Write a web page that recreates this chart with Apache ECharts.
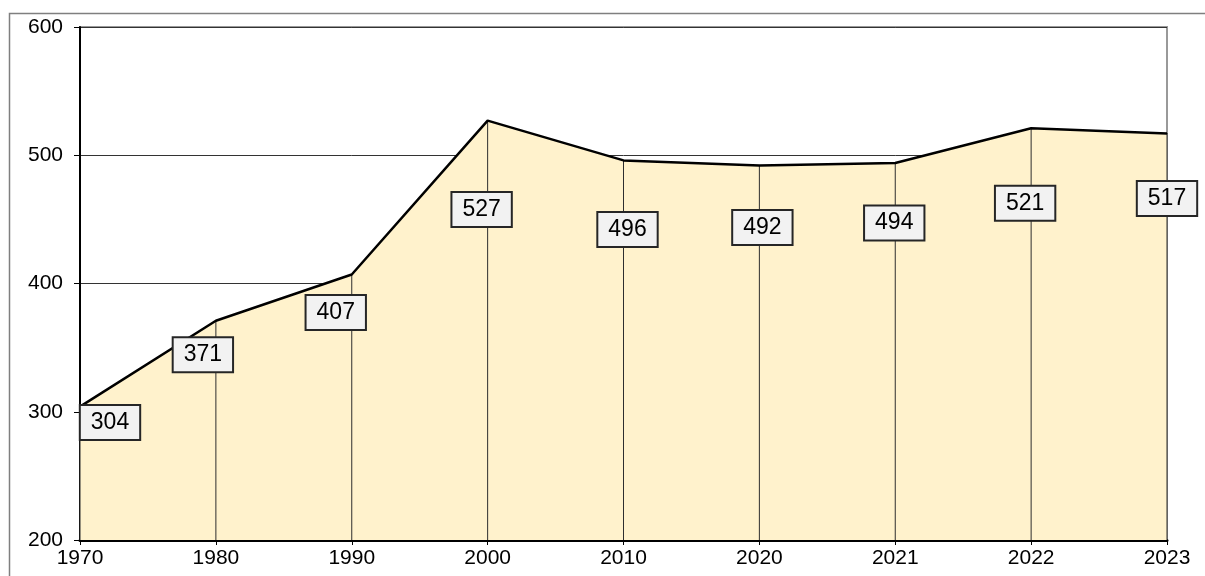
<!DOCTYPE html>
<html>
<head>
<meta charset="utf-8">
<script src="https://cdn.jsdelivr.net/npm/echarts@6/dist/echarts.min.js"></script>
<style>
html,body{margin:0;padding:0;background:#fff;}
#chart{width:1205px;height:576px;}
</style>
</head>
<body>
<div id="chart"></div>
<script>
// ---- data ----
const years = ['1970','1980','1990','2000','2010','2020','2021','2022','2023'];
const values = [304, 371, 407, 527, 496, 492, 494, 521, 517];
const yTicks = [200, 300, 400, 500, 600];

// ---- label layout (pixel offsets of each data label from its point) ----
const labelShift = [[30,16],[-13,34],[-16,38],[-6,89],[4,69],[3,62],[-1,60],[-6,75],[0,65]];

const FONT = 'Arial, "Liberation Sans", sans-serif';
const chart = echarts.init(document.getElementById('chart'), null, {renderer:'canvas'});

chart.setOption({
  animation: false,
  backgroundColor: '#ffffff',
  graphic: [{
    type: 'rect', left: 7, top: 11, z: -10, silent: true,
    shape: { width: 1400, height: 800 },
    style: { fill: 'none', stroke: '#7f7f7f', lineWidth: 1.5 }
  }],
  grid: {
    left: 80, right: 38, top: 27, bottom: 36,
    show: true, borderColor: '#999999', borderWidth: 2, backgroundColor: 'transparent'
  },
  xAxis: {
    type: 'category',
    data: years,
    boundaryGap: false,
    axisLine: { show: true, lineStyle: { color: '#000', width: 3 } },
    axisTick: { show: true, alignWithLabel: true, length: 5, lineStyle: { color: '#000', width: 1 } },
    axisLabel: { color: '#000', fontSize: 21, fontFamily: FONT, margin: 8 },
    splitLine: { show: false }
  },
  yAxis: {
    type: 'value',
    min: yTicks[0],
    max: yTicks[yTicks.length - 1],
    interval: yTicks[1] - yTicks[0],
    axisLine: { show: true, lineStyle: { color: '#000', width: 2 } },
    axisTick: { show: true, length: 6, lineStyle: { color: '#000', width: 1 } },
    axisLabel: { color: '#000', fontSize: 21, fontFamily: FONT, margin: 17 },
    splitLine: { show: true, lineStyle: { color: '#333', width: 1 } }
  },
  series: [
    {
      type: 'line',
      data: values,
      symbol: 'none',
      z: 1,
      lineStyle: { width: 0, opacity: 0 },
      areaStyle: { color: '#fff2cc', opacity: 1, origin: 'start' },
      emphasis: { disabled: true },
      silent: true
    },
    {
      type: 'bar',
      data: values,
      barWidth: 1,
      z: 2,
      itemStyle: { color: '#2e2e2e' },
      emphasis: { disabled: true },
      silent: true
    },
    {
      type: 'line',
      data: values,
      symbol: 'circle',
      symbolSize: 1,
      showSymbol: true,
      z: 3,
      itemStyle: { color: '#000' },
      lineStyle: { color: '#000', width: 2.5 },
      label: {
        show: true,
        position: 'inside',
        color: '#000',
        fontSize: 23,
        fontFamily: FONT,
        backgroundColor: '#f2f2f2',
        borderColor: '#262626',
        borderWidth: 2,
        padding: [6, 10, 4, 10]
      },
      labelLayout: function (p) {
        const s = labelShift[p.dataIndex] || [0, 0];
        return { dx: s[0], dy: s[1], hideOverlap: false };
      },
      emphasis: { disabled: true }
    }
  ]
});
</script>
</body>
</html>
